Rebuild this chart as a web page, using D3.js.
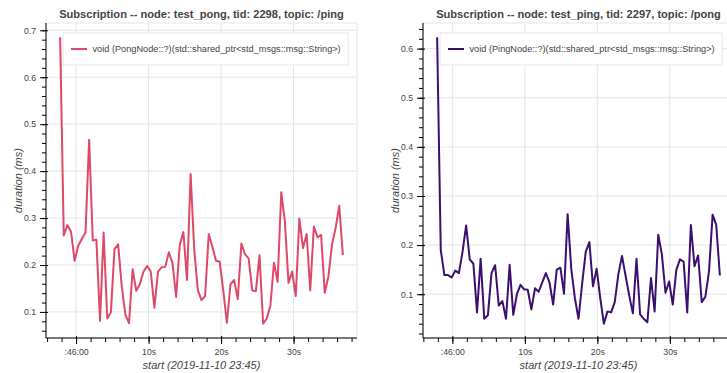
<!DOCTYPE html>
<html>
<head>
<meta charset="utf-8">
<script src="https://cdn.jsdelivr.net/npm/d3@7"></script>
<style>
  body { margin: 0; background: #fff; }
  svg { display: block; font-family: "Liberation Sans", Arial, sans-serif; }
</style>
</head>
<body>
<svg id="chart" width="727" height="373"></svg>
<script>
// seconds relative to 2019-11-10 23:46:00 (UTC used for display)
const pongSec = [-2.2,-1.7,-1.2,-0.7,-0.2,0.3,0.8,1.3,1.8,2.3,2.8,3.3,3.8,4.3,4.8,5.3,5.8,6.3,6.8,7.3,
  7.8,8.3,8.8,9.3,9.8,10.3,10.8,11.3,11.8,12.3,12.8,13.3,13.8,14.3,14.8,15.3,15.8,16.3,16.8,17.3,
  17.8,18.3,18.8,19.3,19.8,20.3,20.8,21.3,21.8,22.3,22.8,23.3,23.8,24.3,24.8,25.3,25.8,26.3,26.8,27.3,
  27.8,28.3,28.8,29.3,29.8,30.3,30.8,31.3,31.8,32.3,32.8,33.3,33.8,34.3,34.8,35.3,35.8,36.3,36.8];
const pongMs = [0.685,0.263,0.285,0.271,0.209,0.241,0.256,0.269,0.467,0.252,
  0.254,0.081,0.269,0.086,0.099,0.234,0.244,0.155,0.094,0.076,
  0.191,0.145,0.159,0.186,0.198,0.186,0.109,0.186,0.195,0.196,
  0.227,0.204,0.132,0.243,0.270,0.168,0.394,0.232,0.146,0.125,
  0.134,0.266,0.239,0.209,0.207,0.146,0.077,0.159,0.168,0.127,
  0.246,0.223,0.214,0.146,0.144,0.221,0.075,0.086,0.113,0.205,
  0.164,0.355,0.293,0.162,0.186,0.134,0.299,0.236,0.266,0.146,
  0.282,0.259,0.264,0.141,0.175,0.243,0.279,0.326,0.221];

const pingSec = [-2.1,-1.6,-1.1,-0.6,-0.1,0.4,0.9,1.4,1.9,2.4,2.9,3.4,3.9,4.4,4.9,5.4,5.9,6.4,6.9,7.4,
  7.9,8.4,8.9,9.4,9.9,10.4,10.9,11.4,11.9,12.4,12.9,13.4,13.9,14.4,14.9,15.4,15.9,16.4,16.9,17.4,
  17.9,18.4,18.9,19.4,19.9,20.4,20.9,21.4,21.9,22.4,22.9,23.4,23.9,24.4,24.9,25.4,25.9,26.4,26.9,27.4,
  27.9,28.4,28.9,29.4,29.9,30.4,30.9,31.4,31.9,32.4,32.9,33.4,33.9,34.4,34.9,35.4,35.9,36.4,36.9];
const pingMs = [0.623,0.190,0.139,0.139,0.134,0.148,0.143,0.186,0.240,0.171,
  0.162,0.063,0.172,0.050,0.057,0.143,0.159,0.077,0.086,0.050,
  0.160,0.058,0.100,0.119,0.110,0.109,0.069,0.112,0.105,0.124,
  0.143,0.124,0.079,0.150,0.154,0.101,0.263,0.152,0.092,0.050,
  0.121,0.186,0.206,0.116,0.152,0.092,0.040,0.065,0.063,0.084,
  0.141,0.178,0.137,0.097,0.061,0.172,0.059,0.050,0.043,0.133,
  0.065,0.221,0.181,0.103,0.126,0.079,0.150,0.171,0.166,0.063,
  0.241,0.157,0.179,0.084,0.095,0.146,0.262,0.241,0.138];

const titles = ["Subscription -- node: test_pong, tid: 2298, topic: /ping",
                "Subscription -- node: test_ping, tid: 2297, topic: /pong"];
const legendLabels = ["void (PongNode::?)(std::shared_ptr<std_msgs::msg::String>)",
                      "void (PingNode::?)(std::shared_ptr<std_msgs::msg::String>)"];
const lineColors = ["#de4968", "#3b0f70"];
const xLabel = "start (2019-11-10 23:45)";
const yLabel = "duration (ms)";

const base = Date.UTC(2019, 10, 10, 23, 46, 0);
const svg = d3.select("#chart");
svg.append("rect").attr("width", 727).attr("height", 373).attr("fill", "#fff");

const panels = [
  {sec: pongSec, ms: pongMs, x0: 46, x1: 357, title: titles[0], legend: legendLabels[0], color: lineColors[0]},
  {sec: pingSec, ms: pingMs, x0: 423, x1: 734, title: titles[1], legend: legendLabels[1], color: lineColors[1]}
];
const plotTop = 23, plotBottom = 338;

const fmtTick = d => d.getUTCSeconds() === 0 ? d3.utcFormat(":%M:%S")(d) : d3.utcFormat("%-Ss")(d);

panels.forEach((p, k) => drawPanel(p, k));

function drawPanel(p, k) {
  const data = p.sec.map((s, i) => ({t: new Date(base + s * 1000), v: p.ms[i]}));

  const tExt = d3.extent(data, d => +d.t);
  const tPad = (tExt[1] - tExt[0]) * 0.05;
  const x = d3.scaleUtc().domain([tExt[0] - tPad, tExt[1] + tPad]).range([p.x0, p.x1]);

  const vExt = d3.extent(data, d => d.v);
  const vPad = (vExt[1] - vExt[0]) * 0.05;
  const y = d3.scaleLinear().domain([vExt[0] - vPad, vExt[1] + vPad]).range([plotBottom, plotTop]);

  const g = svg.append("g");

  const xMajor = x.ticks(d3.utcSecond.every(10));
  const xMinor = x.ticks(d3.utcSecond.every(2));
  const yMajor = y.ticks(6);
  const yMinor = y.ticks(30);

  // grid
  g.append("g").selectAll("line").data(xMajor).join("line")
    .attr("x1", d => x(d)).attr("x2", d => x(d))
    .attr("y1", plotTop).attr("y2", plotBottom)
    .attr("stroke", "#e5e5e5");
  g.append("g").selectAll("line").data(yMajor).join("line")
    .attr("x1", p.x0).attr("x2", p.x1)
    .attr("y1", d => y(d)).attr("y2", d => y(d))
    .attr("stroke", "#e5e5e5");

  g.append("rect")
    .attr("x", p.x0).attr("y", plotTop)
    .attr("width", p.x1 - p.x0).attr("height", plotBottom - plotTop)
    .attr("fill", "none").attr("stroke", "#e5e5e5");

  // series
  const clipId = "clip" + k;
  svg.append("clipPath").attr("id", clipId).append("rect")
    .attr("x", p.x0).attr("y", plotTop).attr("width", p.x1 - p.x0).attr("height", plotBottom - plotTop);

  g.append("path")
    .datum(data)
    .attr("clip-path", `url(#${clipId})`)
    .attr("fill", "none")
    .attr("stroke", p.color)
    .attr("stroke-width", 2)
    .attr("stroke-linejoin", "round")
    .attr("d", d3.line().x(d => x(d.t)).y(d => y(d.v)));

  // x axis
  const xa = g.append("g").attr("transform", `translate(0,${plotBottom})`)
    .call(d3.axisBottom(x).tickValues(xMinor).tickSize(4).tickFormat(""));
  xa.select(".domain").remove();
  const xb = g.append("g").attr("transform", `translate(0,${plotBottom})`)
    .call(d3.axisBottom(x).tickValues(xMajor).tickSize(6).tickPadding(5).tickFormat(fmtTick));
  xb.select(".domain").attr("d", `M${p.x0},0H${p.x1}`);
  xb.selectAll(".tick line").attr("y1", -2);

  // y axis
  const ya = g.append("g").attr("transform", `translate(${p.x0},0)`)
    .call(d3.axisLeft(y).tickValues(yMinor).tickSize(4).tickFormat(""));
  ya.select(".domain").remove();
  const yb = g.append("g").attr("transform", `translate(${p.x0},0)`)
    .call(d3.axisLeft(y).tickValues(yMajor).tickSize(6).tickPadding(4).tickFormat(d3.format(".1f")));
  yb.select(".domain").attr("d", `M0,${plotTop}V${plotBottom}`);
  yb.selectAll(".tick line").attr("x1", 2);

  [xa, xb, ya, yb].forEach(a => {
    a.attr("font-family", null).attr("font-size", null);
    a.selectAll("line, path").attr("stroke", "#000");
    a.selectAll("text").attr("fill", "#444").style("font-size", "8.7px");
  });

  // axis labels
  g.append("text")
    .attr("x", (p.x0 + p.x1) / 2).attr("y", 369)
    .attr("text-anchor", "middle")
    .attr("fill", "#444").style("font-size", "11px").style("font-style", "italic")
    .text(xLabel);
  g.append("text")
    .attr("transform", `translate(${p.x0 - 24},${(plotTop + plotBottom) / 2}) rotate(-90)`)
    .attr("text-anchor", "middle")
    .attr("fill", "#444").style("font-size", "11px").style("font-style", "italic")
    .text(yLabel);

  // title
  g.append("text")
    .attr("x", (p.x0 + p.x1) / 2).attr("y", 18)
    .attr("text-anchor", "middle")
    .attr("fill", "#444").style("font-size", "11.1px").style("font-weight", "bold")
    .text(p.title);

  // legend
  const bx = p.x0 + 17, by = 33;
  const lg = g.append("g");
  const box = lg.append("rect")
    .attr("x", bx).attr("y", by).attr("height", 32)
    .attr("fill", "#fff").attr("fill-opacity", 0.95)
    .attr("stroke", "#e5e5e5");
  lg.append("line")
    .attr("x1", bx + 8).attr("x2", bx + 24)
    .attr("y1", by + 16).attr("y2", by + 16)
    .attr("stroke", p.color).attr("stroke-width", 2);
  const lt = lg.append("text")
    .attr("x", bx + 29.5).attr("y", by + 16).attr("dy", "0.35em")
    .attr("fill", "#444").style("font-size", "9.2px")
    .text(p.legend);
  box.attr("width", 29.5 + lt.node().getComputedTextLength() + 7.5);
}
</script>
</body>
</html>
